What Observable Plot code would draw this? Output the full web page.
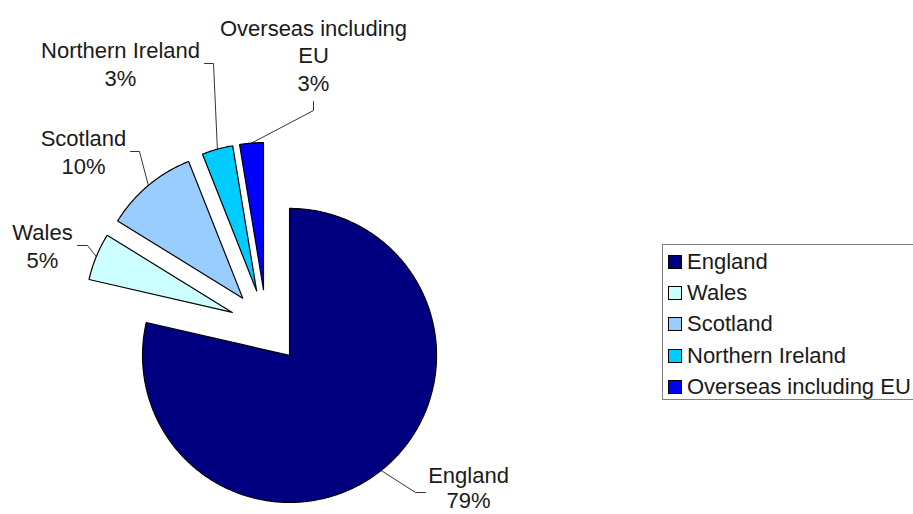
<!DOCTYPE html>
<html>
<head>
<meta charset="utf-8">
<script src="https://cdn.jsdelivr.net/npm/d3@7"></script>
<script src="https://cdn.jsdelivr.net/npm/@observablehq/plot@0.6"></script>
<style>
  html, body { margin: 0; padding: 0; overflow: hidden; background: #fff; }
  #wrap { position: relative; width: 913px; height: 514px; overflow: hidden; }
  #legend { position: absolute; left: 662px; top: 244px; width: 280px; height: 156px;
    border: 1px solid #808080; box-sizing: border-box; font-family: "Liberation Sans", Arial, sans-serif;
    font-size: 22px; color: #1a1a1a; padding-top: 1px; }
  .item { height: 31.3px; display: flex; align-items: center; white-space: nowrap; }
  .sw { width: 12px; height: 12px; border: 1px solid #000; margin-left: 5px; margin-right: 5px; flex: none; }
</style>
</head>
<body>
<div id="wrap"><div id="chart"></div><div id="legend"></div></div>
<script>
// ---- data ----
const regions = ["England", "Wales", "Scotland", "Northern Ireland", "Overseas including EU"];
const labelText = ["England", "Wales", "Scotland", "Northern Ireland", "Overseas including\nEU"];
const shares = [78.6, 5.2, 10.2, 3.4, 2.6];
const colors = ["#000080", "#CCFFFF", "#99CCFF", "#00CCFF", "#0000FF"];

// ---- layout (pixels) ----
const W = 913, H = 514;
const cx = 266, cy = 326, R = 147, explode = 37;
// label centres and leader elbows (label side first)
const labelLayout = [
  {x: 468, y: 487, lh: 1.15, leader: [[425, 492], [415, 492]]},
  {x: 42, y: 244.5, lh: 1.25, leader: [[77, 245], [87, 245]]},
  {x: 83, y: 150.5, lh: 1.25, leader: [[130, 151], [139, 151]]},
  {x: 120, y: 63, lh: 1.27, leader: [[204, 63], [213, 63]]},
  {x: 313, y: 54, lh: 1.25, leader: [[313, 101], [313, 110]]}
];

const arcs = d3.pie().sort(null).value(d => d)(shares);
const pt = (ox, oy, r, a) => [ox + r * Math.sin(a), oy - r * Math.cos(a)];

const sliceMarks = [];
const leaderMarks = [];
const labelMarks = [];
arcs.forEach((arc, i) => {
  const mid = (arc.startAngle + arc.endAngle) / 2;
  const [ox, oy] = pt(cx, cy, explode, mid);
  const poly = [[ox, oy]];
  const n = Math.max(2, Math.ceil((arc.endAngle - arc.startAngle) / (Math.PI / 360)));
  for (let k = 0; k <= n; k++) {
    const a = arc.startAngle + (arc.endAngle - arc.startAngle) * k / n;
    poly.push(pt(ox, oy, R, a));
  }
  poly.push([ox, oy]);
  sliceMarks.push(Plot.line(poly, {x: d => d[0], y: d => d[1], fill: colors[i], stroke: "#000",
    strokeWidth: 1.2, strokeLinejoin: "miter", curve: "linear"}));
  const L = labelLayout[i];
  const lead = [...L.leader, pt(ox, oy, R, mid)];
  leaderMarks.push(Plot.line(lead, {x: d => d[0], y: d => d[1], stroke: "#000", strokeWidth: 0.8}));
  labelMarks.push(Plot.text([{x: L.x, y: L.y, text: labelText[i] + "\n" + d3.format(".0f")(shares[i]) + "%"}],
    {x: "x", y: "y", text: "text", fontSize: 22, lineHeight: L.lh,
     fontFamily: "Liberation Sans, Arial, sans-serif", fill: "#1a1a1a", textAnchor: "middle"}));
});

const chart = Plot.plot({
  width: W, height: H,
  margin: 0,
  x: {type: "linear", domain: [0, W], range: [0, W], axis: null},
  y: {type: "linear", domain: [0, H], range: [0, H], axis: null},
  style: {background: "#fff"},
  marks: [...sliceMarks, ...leaderMarks, ...labelMarks]
});
document.getElementById("chart").appendChild(chart);

const legend = document.getElementById("legend");
regions.forEach((name, i) => {
  const item = document.createElement("div");
  item.className = "item";
  const sw = document.createElement("span");
  sw.className = "sw";
  sw.style.background = colors[i];
  const t = document.createElement("span");
  t.textContent = name;
  item.appendChild(sw); item.appendChild(t);
  legend.appendChild(item);
});
</script>
</body>
</html>
